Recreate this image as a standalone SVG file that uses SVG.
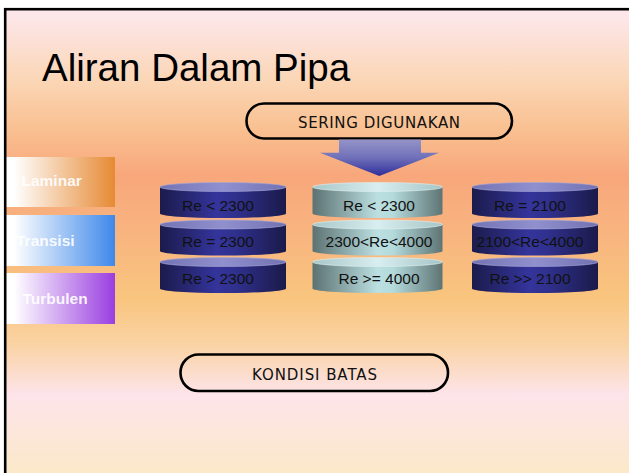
<svg xmlns="http://www.w3.org/2000/svg" width="629" height="473" viewBox="0 0 629 473">
  <defs>
    <!-- slide background: pink top, salmon band, yellow-orange, pink, cream -->
    <linearGradient id="bg" x1="0" y1="0" x2="0" y2="473" gradientUnits="userSpaceOnUse">
      <stop offset="0" stop-color="#fee8ee"/>
      <stop offset="0.04" stop-color="#fde6e8"/>
      <stop offset="0.17" stop-color="#fbd6b6"/>
      <stop offset="0.27" stop-color="#f9c192"/>
      <stop offset="0.37" stop-color="#f8a77b"/>
      <stop offset="0.49" stop-color="#f8b47f"/>
      <stop offset="0.63" stop-color="#f9c57e"/>
      <stop offset="0.73" stop-color="#fad3a5"/>
      <stop offset="0.835" stop-color="#fde4ea"/>
      <stop offset="1" stop-color="#fbe9c9"/>
    </linearGradient>
    <linearGradient id="arrowFill" x1="0" y1="0" x2="0" y2="1">
      <stop offset="0" stop-color="#9494c8"/>
      <stop offset="0.5" stop-color="#7070ba"/>
      <stop offset="1" stop-color="#2e2e9a"/>
    </linearGradient>
    <linearGradient id="gLaminar" x1="0" y1="0" x2="1" y2="0">
      <stop offset="0.08" stop-color="#ffffff"/>
      <stop offset="1" stop-color="#e68a34"/>
    </linearGradient>
    <linearGradient id="gTransisi" x1="0" y1="0" x2="1" y2="0">
      <stop offset="0.08" stop-color="#ffffff"/>
      <stop offset="1" stop-color="#3e88ea"/>
    </linearGradient>
    <linearGradient id="gTurbulen" x1="0" y1="0" x2="1" y2="0">
      <stop offset="0.08" stop-color="#ffffff"/>
      <stop offset="1" stop-color="#9a3ee0"/>
    </linearGradient>
    <!-- cylinder bodies and lids -->
    <linearGradient id="blueBody" x1="0" y1="0" x2="1" y2="0">
      <stop offset="0" stop-color="#1b1b4c"/>
      <stop offset="0.45" stop-color="#34349c"/>
      <stop offset="0.6" stop-color="#30308e"/>
      <stop offset="1" stop-color="#1a1a4a"/>
    </linearGradient>
    <linearGradient id="blueLid" x1="0" y1="0" x2="1" y2="0">
      <stop offset="0" stop-color="#7474b4"/>
      <stop offset="0.5" stop-color="#9090cf"/>
      <stop offset="1" stop-color="#7272b2"/>
    </linearGradient>
    <linearGradient id="tealBody" x1="0" y1="0" x2="1" y2="0">
      <stop offset="0" stop-color="#5c7272"/>
      <stop offset="0.5" stop-color="#bce0e2"/>
      <stop offset="0.62" stop-color="#b4dadc"/>
      <stop offset="1" stop-color="#5e7474"/>
    </linearGradient>
    <linearGradient id="tealLid" x1="0" y1="0" x2="1" y2="0">
      <stop offset="0" stop-color="#a8c6c8"/>
      <stop offset="0.5" stop-color="#d8eef0"/>
      <stop offset="1" stop-color="#a6c4c6"/>
    </linearGradient>
    <style>
      .title { font-family: "Liberation Sans", Arial, sans-serif; font-size: 38.5px; fill: #000; }
      .pill { fill: none; stroke: #000; stroke-width: 2.6; }
      .pillText { font-family: "DejaVu Sans", Verdana, sans-serif; font-size: 15px; fill: #111; text-anchor: middle; }
      .tab { font-family: "Liberation Sans", Arial, sans-serif; font-size: 15.5px; font-weight: bold; fill: #ffffff; fill-opacity: 0.92; }
      .cylText { font-family: "Liberation Sans", Arial, sans-serif; font-size: 15.5px; fill: #111; text-anchor: middle; }
      .blueLid { fill: url(#blueLid); stroke: #a8a8d8; stroke-width: 0.6; }
      .tealLid { fill: url(#tealLid); stroke: #e0f0f0; stroke-width: 0.6; }
    </style>
  </defs>

  <!-- page background and slide frame -->
  <rect x="0" y="0" width="629" height="473" fill="#ffffff"/>
  <rect x="5" y="9" width="700" height="600" fill="url(#bg)"/>

  <text class="title" x="42" y="81">Aliran Dalam Pipa</text>

  <!-- flow regime tabs -->
  <g id="tab-laminar">
    <rect x="5" y="157" width="110" height="50" fill="url(#gLaminar)"/>
    <text class="tab" x="21.5" y="186">Laminar</text>
  </g>
  <g id="tab-transisi">
    <rect x="5" y="215" width="110" height="51" fill="url(#gTransisi)"/>
    <text class="tab" x="16" y="246">Transisi</text>
  </g>
  <g id="tab-turbulen">
    <rect x="5" y="273" width="110" height="51" fill="url(#gTurbulen)"/>
    <text class="tab" x="22.5" y="304">Turbulen</text>
  </g>

  <rect x="5.2" y="9.2" width="700" height="600" fill="none" stroke="#000" stroke-width="2.6"/>

  <!-- header pill -->
  <g id="sering-digunakan">
    <rect class="pill" x="246.5" y="103.5" width="265.5" height="35" rx="17.5"/>
    <text class="pillText" x="379" y="128" textLength="162" lengthAdjust="spacing">SERING DIGUNAKAN</text>
  </g>

  <!-- connectors -->
  <g id="connectors">
    <path d="M339 139.5 H421 V152.7 H439 L379.3 176 L320 152.7 H339 Z" fill="url(#arrowFill)"/>
  </g>

  <!-- left stack: Re limits 2300 -->
  <g id="stack-2300">
    <g>
      <path d="M160 187 V213.5 A63 4.5 0 0 0 286 213.5 V187 Z" fill="url(#blueBody)"/>
      <ellipse class="blueLid" cx="223" cy="187" rx="63" ry="4.5"/>
      <text class="cylText" x="218" y="211">Re &lt; 2300</text>
    </g>
    <g>
      <path d="M160 224.5 V251 A63 4.5 0 0 0 286 251 V224.5 Z" fill="url(#blueBody)"/>
      <ellipse class="blueLid" cx="223" cy="224.5" rx="63" ry="4.5"/>
      <text class="cylText" x="218" y="247">Re = 2300</text>
    </g>
    <g>
      <path d="M160 262 V288.5 A63 4.5 0 0 0 286 288.5 V262 Z" fill="url(#blueBody)"/>
      <ellipse class="blueLid" cx="223" cy="262" rx="63" ry="4.5"/>
      <text class="cylText" x="218" y="284">Re &gt; 2300</text>
    </g>
  </g>

  <!-- middle stack: common limits -->
  <g id="stack-umum">
    <g>
      <path d="M312.5 187 V213.5 A65 4.5 0 0 0 442.5 213.5 V187 Z" fill="url(#tealBody)"/>
      <ellipse class="tealLid" cx="377.5" cy="187" rx="65" ry="4.5"/>
      <text class="cylText" x="379" y="211">Re &lt; 2300</text>
    </g>
    <g>
      <path d="M312.5 224.5 V251 A65 4.5 0 0 0 442.5 251 V224.5 Z" fill="url(#tealBody)"/>
      <ellipse class="tealLid" cx="377.5" cy="224.5" rx="65" ry="4.5"/>
      <text class="cylText" x="379" y="247">2300&lt;Re&lt;4000</text>
    </g>
    <g>
      <path d="M312.5 262 V288.5 A65 4.5 0 0 0 442.5 288.5 V262 Z" fill="url(#tealBody)"/>
      <ellipse class="tealLid" cx="377.5" cy="262" rx="65" ry="4.5"/>
      <text class="cylText" x="379" y="284">Re &gt;= 4000</text>
    </g>
  </g>

  <!-- right stack: Re limits 2100 -->
  <g id="stack-2100">
    <g>
      <path d="M472 187 V213.5 A63 4.5 0 0 0 598 213.5 V187 Z" fill="url(#blueBody)"/>
      <ellipse class="blueLid" cx="535" cy="187" rx="63" ry="4.5"/>
      <text class="cylText" x="530" y="211">Re = 2100</text>
    </g>
    <g>
      <path d="M472 224.5 V251 A63 4.5 0 0 0 598 251 V224.5 Z" fill="url(#blueBody)"/>
      <ellipse class="blueLid" cx="535" cy="224.5" rx="63" ry="4.5"/>
      <text class="cylText" x="530" y="247">2100&lt;Re&lt;4000</text>
    </g>
    <g>
      <path d="M472 262 V288.5 A63 4.5 0 0 0 598 288.5 V262 Z" fill="url(#blueBody)"/>
      <ellipse class="blueLid" cx="535" cy="262" rx="63" ry="4.5"/>
      <text class="cylText" x="530" y="284">Re &gt;&gt; 2100</text>
    </g>
  </g>

  <!-- footer pill -->
  <g id="kondisi-batas">
    <rect class="pill" x="180.5" y="354.5" width="267.5" height="36.5" rx="18"/>
    <text class="pillText" x="314.5" y="379.5" textLength="125" lengthAdjust="spacing">KONDISI BATAS</text>
  </g>
</svg>
